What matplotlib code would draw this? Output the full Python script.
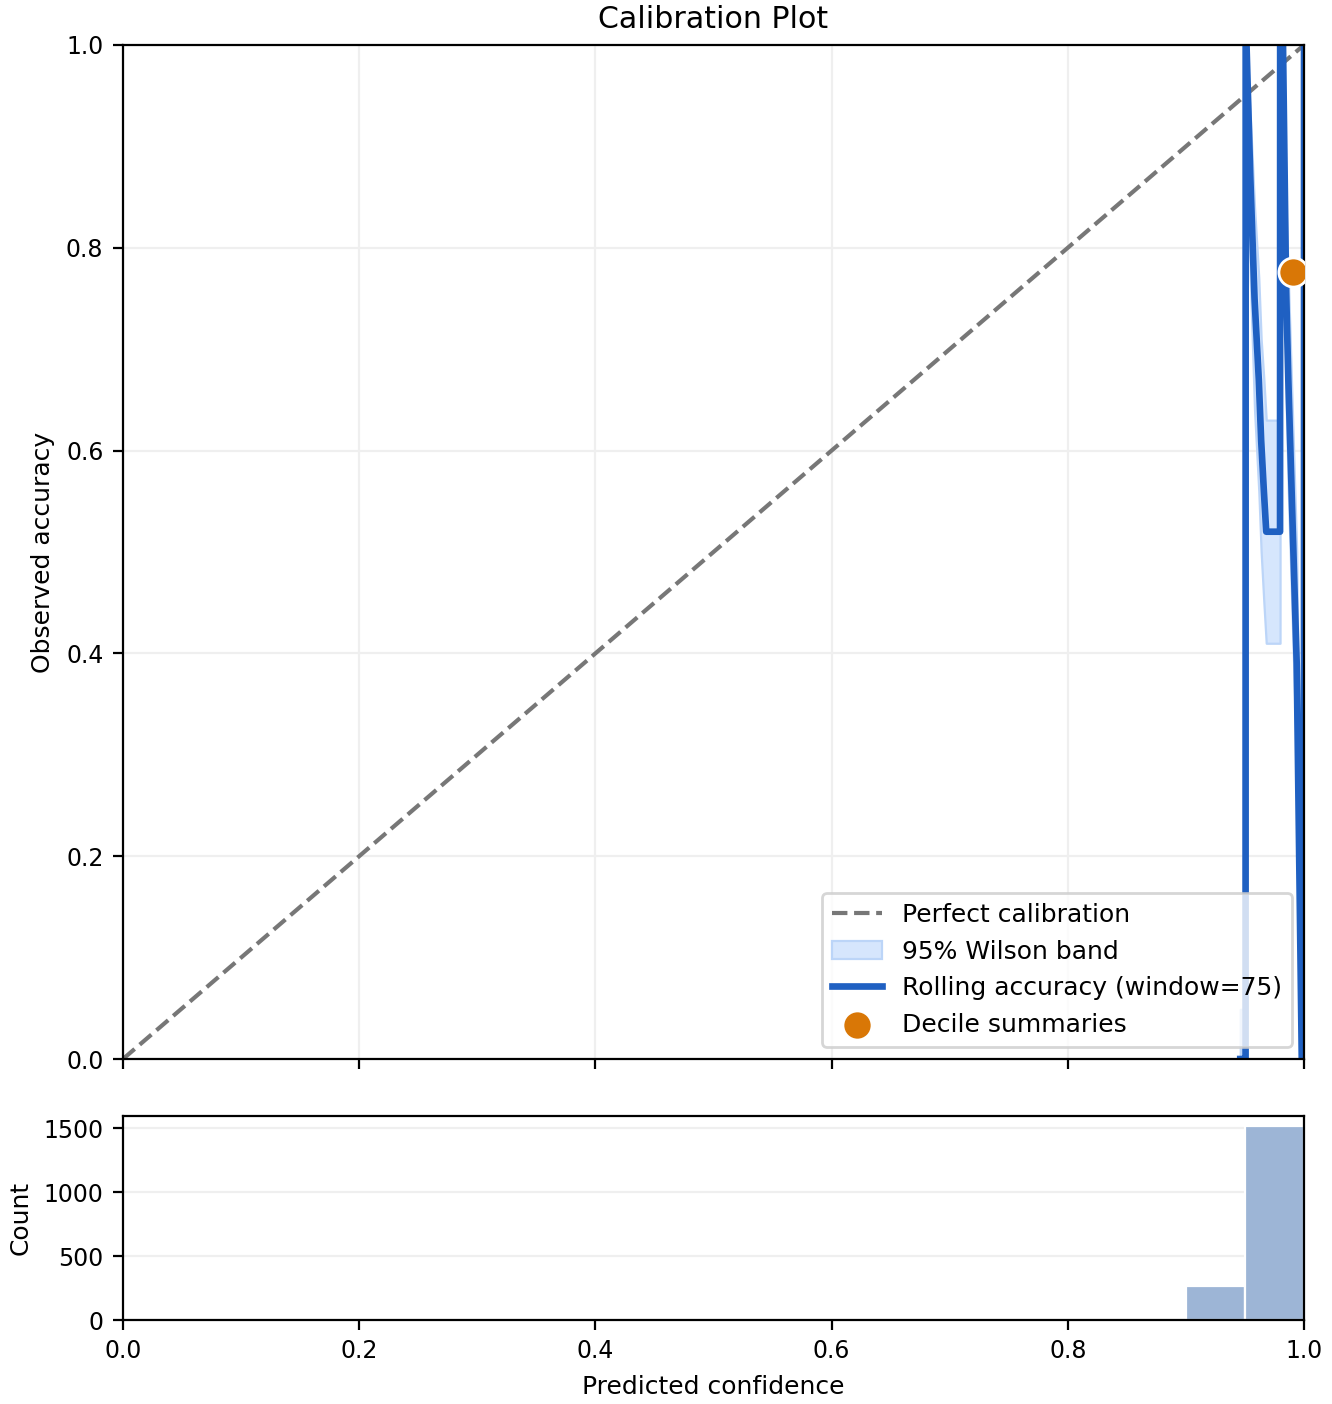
import numpy as np
import matplotlib
matplotlib.use("Agg")
import matplotlib.pyplot as plt

# ----
# Data
# ----
# rolling window (75) over predictions sorted by confidence
roll_conf = [0.9460, 0.9490, 0.9505, 0.9506, 0.9513, 0.9545, 0.9581, 0.9617,
             0.9637, 0.9660, 0.9680, 0.9740, 0.9797, 0.9798, 0.9822, 0.9835,
             0.9848, 0.9867, 0.9938, 0.9981, 1.0000, 1.0000]
roll_acc = [0.00, 0.00, 0.00, 1.00, 1.00, 0.87, 0.75, 0.67,
            0.61, 0.56, 0.52, 0.52, 0.52, 1.00, 1.00, 0.88,
            0.76, 0.67, 0.39, 0.00, 0.00, 1.00]
wilson_lo = [0.000, 0.000, 0.000, 0.951, 0.951, 0.77, 0.64, 0.56,
             0.50, 0.45, 0.41, 0.41, 0.41, 0.951, 0.951, 0.79,
             0.65, 0.56, 0.29, 0.000, 0.000, 0.951]
wilson_hi = [0.049, 0.049, 0.049, 1.000, 1.000, 0.93, 0.84, 0.77,
             0.71, 0.67, 0.63, 0.63, 0.63, 1.000, 1.000, 0.94,
             0.84, 0.77, 0.50, 0.049, 0.049, 1.000]

# decile summaries (all deciles collapse to one point)
decile_conf = [0.991]
decile_acc = [0.776]

# histogram of predicted confidence
bin_left = [0.90, 0.95]
bin_count = [263, 1521]
bin_width = 0.05

# ----
# Plot
# ----
fig = plt.figure(figsize=(6.66, 7.02), dpi=200)
ax = fig.add_axes([0.0923, 0.2457, 0.8867, 0.7223])
axh = fig.add_axes([0.0923, 0.0598, 0.8867, 0.1453], sharex=ax)

ax.plot([0, 1], [0, 1], linestyle="--", color="#777777", linewidth=1.5,
        label="Perfect calibration")
ax.fill_between(roll_conf, wilson_lo, wilson_hi, facecolor="#d6e6fd",
                edgecolor="#bcd5f8", linewidth=0.8, label="95% Wilson band")
ax.plot(roll_conf, roll_acc, color="#1f60c2", linewidth=2.4,
        label="Rolling accuracy (window=75)")
ax.scatter(decile_conf, decile_acc, s=110, color="#d97706", edgecolor="white",
           linewidth=1.0, zorder=4, label="Decile summaries")

ax.set_xlim(0, 1)
ax.set_ylim(0, 1)
ax.set_ylabel("Observed accuracy", fontsize=9)
ax.set_title("Calibration Plot", fontsize=10.8)
ax.grid(True, color="#efefef", linewidth=0.8)
ax.set_axisbelow(True)
ax.tick_params(labelsize=8.5, labelbottom=False)
ax.legend(loc="lower right", fontsize=9)

axh.bar(bin_left, bin_count, width=bin_width, align="edge", color="#9db5d6",
        edgecolor="white", linewidth=0.8)
axh.set_xlim(0, 1)
axh.set_ylabel("Count", fontsize=9)
axh.set_xlabel("Predicted confidence", fontsize=9)
axh.set_yticks([0, 500, 1000, 1500])
axh.grid(True, axis="y", color="#efefef", linewidth=0.8)
axh.set_axisbelow(True)
axh.tick_params(labelsize=8.5)

# ----
# Save image
# ----
fig.savefig("out.png", dpi=200)
